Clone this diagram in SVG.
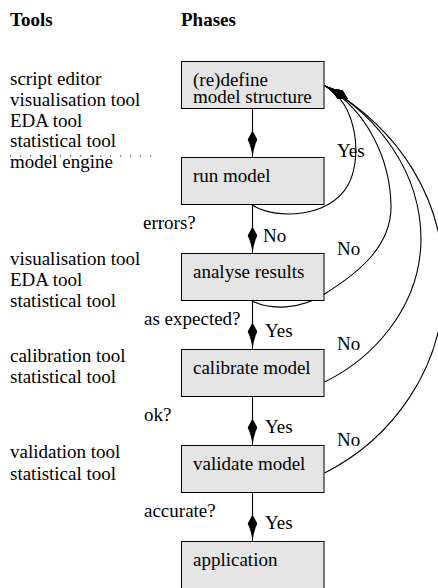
<svg xmlns="http://www.w3.org/2000/svg" width="438" height="588" viewBox="0 0 438 588" font-family="'Liberation Serif', 'Times New Roman', 'DejaVu Serif', serif" font-size="19">
<style>
text{font-family:'Liberation Serif','Times New Roman','DejaVu Serif',serif;font-size:19px;fill:#000}
.h{font-weight:bold}
.box{fill:#e5e5e5;stroke:#000;stroke-width:1}
.c{fill:none;stroke:#000;stroke-width:1.1}
.arr{marker-end:url(#ah)}
.dot{fill:none;stroke:#222;stroke-width:1;stroke-dasharray:1.2 8.8}
</style>
<defs>
<marker id="ah" markerUnits="userSpaceOnUse" orient="auto" refX="0" refY="0" markerWidth="30" markerHeight="14" overflow="visible">
<path d="M0,0 Q-10,-1 -18,-4.8 L-27,0 L-18,4.8 Q-10,1 0,0 Z" fill="#000"/>
</marker>
</defs>
<rect width="438" height="588" fill="#fff"/>
<g id="headers">
<text class="h" x="10" y="26">Tools</text>
<text class="h" x="181" y="26">Phases</text>
</g>
<g id="tools">
<text x="10" y="85">script editor</text>
<text x="10" y="106">visualisation tool</text>
<text x="10" y="127">EDA tool</text>
<text x="10" y="147">statistical tool</text>
<text x="10" y="168">model engine</text>
<path class="dot" d="M10,156 H152"/>
<text x="10" y="265">visualisation tool</text>
<text x="10" y="286">EDA tool</text>
<text x="10" y="307">statistical tool</text>
<text x="10" y="362">calibration tool</text>
<text x="10" y="383">statistical tool</text>
<text x="10" y="458">validation tool</text>
<text x="10" y="480">statistical tool</text>
</g>
<g id="connectors">
<path class="c arr" d="M252.5,108.5 V157.5"/>
<path class="c arr" d="M252.5,204.5 V253.5"/>
<path class="c arr" d="M252.5,300.5 V349.5"/>
<path class="c arr" d="M252.5,396.5 V445.5"/>
<path class="c arr" d="M252.5,492.5 V541.5"/>
<path class="c arr" d="M252,205 C275,220 330,218 348,185 C362,160 359,105.5 324.5,85.5"/>
<path class="c arr" d="M252,301 C270,310 300,310 324.5,294 C360,272 392,245 391,205 C390,160 368,110.5 324.5,85.5"/>
<path class="c arr" d="M324.5,382 C370,360 420,310 421,240 C421,170 376.5,115.5 324.5,85.5"/>
<path class="c arr" d="M324.5,473 C390,440 445,370 444,280 C443,200 402,130.5 324.5,85.5"/>
<text x="337" y="157">Yes</text>
<text x="143" y="229">errors?</text>
<text x="263" y="242">No</text>
<text x="337" y="255">No</text>
<text x="144" y="325">as expected?</text>
<text x="265" y="337">Yes</text>
<text x="337" y="350">No</text>
<text x="144" y="421">ok?</text>
<text x="265" y="433">Yes</text>
<text x="337" y="446">No</text>
<text x="144" y="517">accurate?</text>
<text x="265" y="529">Yes</text>
</g>
<g id="define">
<rect class="box" x="181.5" y="61.5" width="142.5" height="47"/>
<text x="193" y="86">(re)define</text>
<text x="193" y="103">model structure</text>
</g>
<g id="run">
<rect class="box" x="181.5" y="157.5" width="142.5" height="47"/>
<text x="193" y="181.5">run model</text>
</g>
<g id="analyse">
<rect class="box" x="181.5" y="253.5" width="142.5" height="47"/>
<text x="193" y="277.5">analyse results</text>
</g>
<g id="calibrate">
<rect class="box" x="181.5" y="349.5" width="142.5" height="47"/>
<text x="193" y="373.5">calibrate model</text>
</g>
<g id="validate">
<rect class="box" x="181.5" y="445.5" width="142.5" height="47"/>
<text x="193" y="469.5">validate model</text>
</g>
<g id="application">
<rect class="box" x="181.5" y="541.5" width="142.5" height="47"/>
<text x="193" y="565.5">application</text>
</g>
</svg>
